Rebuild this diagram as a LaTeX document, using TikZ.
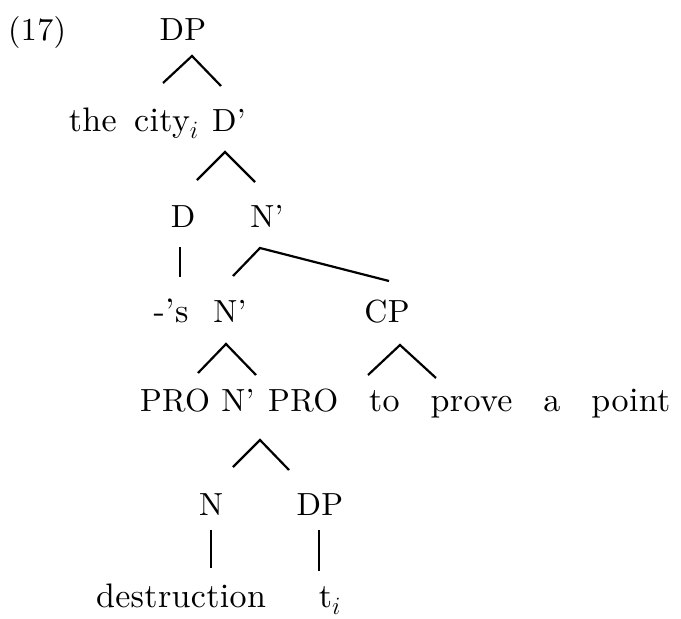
\documentclass[tikz,border=0pt]{standalone}
\usepackage{fontspec}
\setmainfont{lmroman10-regular.otf}[WordSpace=1.5,LetterSpace=1]
\usetikzlibrary{calc}
\newcommand{\catsize}{\fontsize{32}{37}\selectfont}
\newcommand{\wordsize}{\fontsize{34}{40}\selectfont}

\begin{document}
\begin{tikzpicture}[x=1pt,y=-1pt,
      cat/.style={inner sep=0pt,anchor=base,font=\catsize},
      word/.style={inner sep=0pt,anchor=base,font=\wordsize},
      branch/.style={line width=2.2pt}]
    \useasboundingbox (0,0) rectangle (681,619);
    % labels, row by row
    \node[cat,anchor=base west] (ex) at (8,40) {(17)};
    \node[cat] (dpTop) at (183,40) {DP};
    \node[word,anchor=base east] (city) at (199,131) {the city$_i$};
    \node[cat] (dbar) at (229,131) {D'};
    \node[cat] (d) at (183,227) {D};
    \node[cat] (nbarA) at (267,227) {N'};
    \node[word] (poss) at (171,322) {-'s};
    \node[cat] (nbarB) at (230,322) {N'};
    \node[cat] (cp) at (387,322) {CP};
    \node[cat] (pro) at (175,411) {PRO};
    \node[cat] (nbarC) at (238,411) {N'};
    \node[word,anchor=base west] (clause) at (268,411)
      {\spaceskip=31pt {\catsize PRO} to prove a point};
    \node[cat] (n) at (211,515) {N};
    \node[cat] (dpLow) at (320,515) {DP};
    \node[word] (destr) at (181,607) {destruction};
    \node[word] (trace) at (330,607) {t$_i$};
    % branching points
    \path (192,56) coordinate (dpTop-v) (163,83) coordinate (dpTop-l) (221,86) coordinate (dpTop-r);
    \path (225,152) coordinate (dbar-v) (197,180) coordinate (dbar-l) (255,182) coordinate (dbar-r);
    \path (260,248) coordinate (nbarA-v) (233,276) coordinate (nbarA-l) (389,281) coordinate (nbarA-r);
    \path (226,344) coordinate (nbarB-v) (198,373) coordinate (nbarB-l) (256,375) coordinate (nbarB-r);
    \path (400,345) coordinate (cp-v) (368,375) coordinate (cp-l) (436,378) coordinate (cp-r);
    \path (260,440) coordinate (nbarC-v) (233,467) coordinate (nbarC-l) (289,470) coordinate (nbarC-r);
    \foreach \p in {dpTop,dbar,nbarA,nbarB,cp,nbarC}{
      \draw[branch] (\p-l) -- (\p-v) -- (\p-r);
    }
    % unary branches
    \draw[branch,shorten <=20pt,shorten >=21pt] ([xshift=-3pt]d.south) -- ([xshift=-3pt]d.south |- poss.north);
    \draw[branch,shorten <=15pt,shorten >=15pt] (n.south) -- (n.south |- destr.north);
    \draw[branch,shorten <=15pt,shorten >=15pt] ([xshift=-1pt]dpLow.south) -- ([xshift=-1pt]dpLow.south |- trace.north);
  \end{tikzpicture}
\end{document}
